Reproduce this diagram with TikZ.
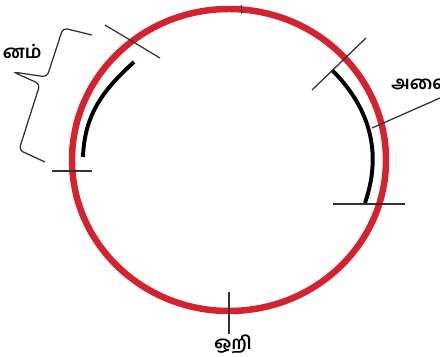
\documentclass[tikz,border=0pt]{standalone}
\usepackage{fontspec}
\newfontfamily\tamil[Script=Tamil]{Hind Madurai}
\definecolor{ringred}{RGB}{212,34,46}

\begin{document}
\begin{tikzpicture}[x=0.025cm,y=0.025cm,
        ring/.style={draw=ringred,line width=4.6pt},
        seg/.style={draw=black,line width=2.8pt},
        tickline/.style={draw=black!80,line width=0.9pt},
        lbl/.style={font=\tamil\bfseries\fontsize{13}{15}\selectfont,inner sep=0pt}]
        \useasboundingbox (0,0) rectangle (440,356);
        \clip (0,0) rectangle (440,356);
        % the ring
        \draw[ring] (229,196) ellipse [x radius=157, y radius=151];
        % thick arcs inside
        \draw[seg] (134,294) to[out=222,in=88] (83,199);
        \draw[seg] (332,286) to[out=-45,in=71] (365,153);
        % ticks
        \draw[tickline] (105,331) -- (160,298);
        \draw[tickline] (312,266) -- (366,318);
        \draw[tickline] (52,185) -- (92,185);
        \draw[tickline] (333,152) -- (405,152);
        \draw[tickline] (229,64) -- (229,22);
        \draw[tickline] (241.5,342) -- (241.5,351);
        % brace
        \draw[tickline,rounded corners=3pt] (92,321) -- (63,328) -- (47,279) -- (13,284)
            -- (40,272) -- (19,206) -- (45,194);
        % labels
        \node (left) [lbl, anchor=base east] at (42,297) {னம்};
        \node (right) [lbl, anchor=base west] at (391,266) {அலை};
        \node (bottom) [lbl, anchor=base] at (233,7) {ஒறி};
        \coordinate (foot) at (372,228);
        \coordinate (edge) at (440,258);
        \draw[tickline] (foot) -- (edge);
\end{tikzpicture}
\end{document}
